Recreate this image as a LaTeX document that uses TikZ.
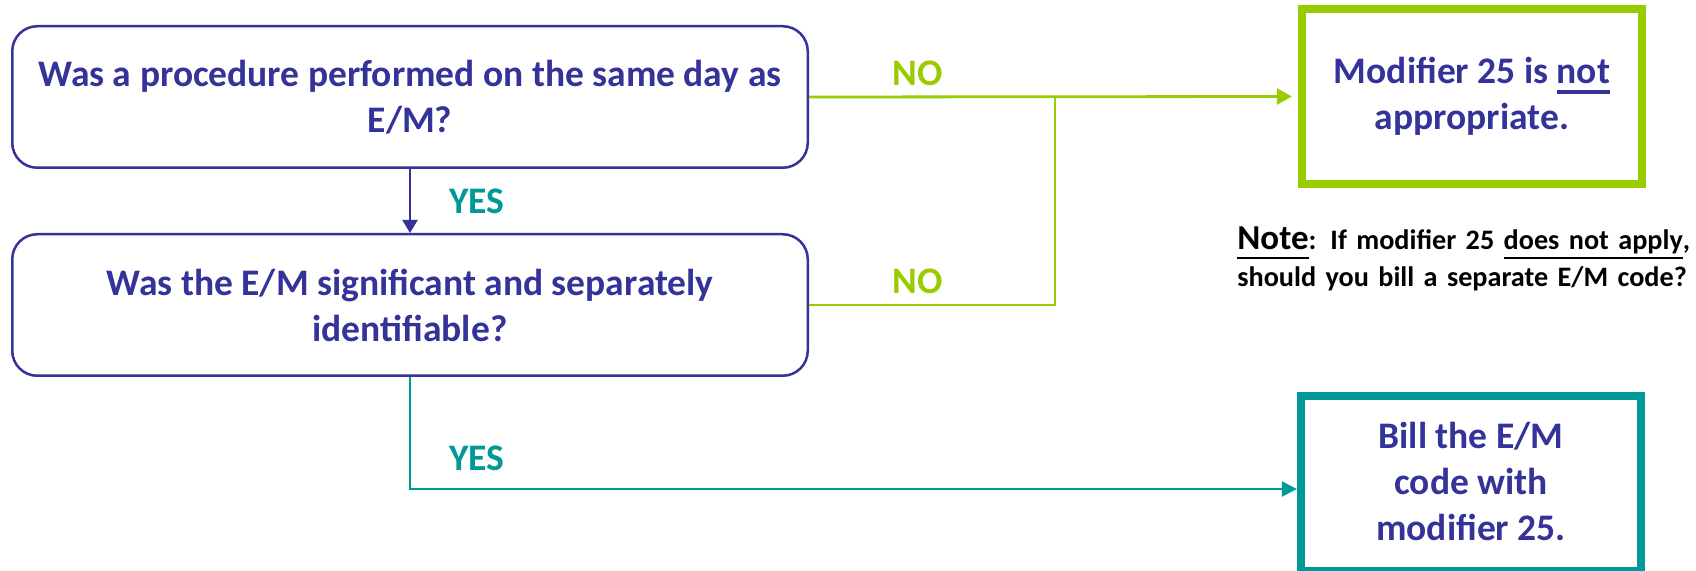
\documentclass[tikz,border=0pt]{standalone}
\usepackage{fontspec}
\setmainfont{Carlito}
\usetikzlibrary{arrows.meta}
\definecolor{navy}{RGB}{51,51,153}
\definecolor{lime}{RGB}{153,204,0}
\definecolor{tealc}{RGB}{0,153,153}
\newcommand\mythickul[1]{\setbox0\hbox{#1}\rlap{\rule[-5pt]{\wd0}{2pt}}\box0}
\newcommand\mythinul[1]{\setbox0\hbox{#1}\rlap{\rule[-4.5pt]{\wd0}{1.1pt}}\box0}
\begin{document}
\begin{tikzpicture}[x=0.5pt,y=-0.5pt,
  mainfont/.style={font=\fontsize{18.75}{23}\selectfont\bfseries},
  qbox/.style={draw=navy, line width=1.25pt, rounded corners=12.5pt,
    minimum width=397.75pt, minimum height=70.75pt, align=center,
    text=navy, mainfont, inner sep=0pt},
  endbox/.style={line width=3.9pt, minimum width=170.25pt, minimum height=87.75pt,
    align=center, text=navy, mainfont, inner sep=0pt},
  lbl/.style={mainfont, anchor=base, inner sep=0pt},
  noline/.style={draw=lime, line width=1.4pt},
  yesline/.style={draw=tealc, line width=1.25pt}
]
\useasboundingbox (0,0) rectangle (1696,571);

\node[qbox] (q1) at (410,97) {Was a procedure performed on the same day as\\E/M?};
\node[qbox] (q2) at (410,305) {Was the E/M significant and separately\\identifiable?};

\node[endbox, draw=lime] (r1) at (1472,96.5) {Modifier 25 is \mythickul{not}\\appropriate.};
\node[endbox, draw=tealc] (r2) at (1471,483.5) {};
\node[text=navy, mainfont, align=center, inner sep=0pt] (r2t) at (1471,481) {Bill the E/M\\code with\\modifier 25.};

\node[anchor=base west, text width=260pt, align=left, inner sep=0pt,
  font=\fontsize{14.1}{18.5}\selectfont\bfseries] (note) at (1237,250)
  {\mythinul{\fontsize{17.5}{18.5}\selectfont Note}: If modifier 25 \mythinul{does not apply},\\should you bill a separate E/M code?};

\coordinate (j) at (1055,97);

\draw[navy, line width=1pt, -{Triangle[length=6.5pt,width=7.5pt]}] (q1.south) -- (q2.north);
\draw[noline, -{Triangle[length=7.5pt,width=8pt]}, shorten >=3pt] (q1.east) -- (r1.west);
\draw[noline] (q2.east) -| (j);
\draw[yesline, -{Triangle[length=7.5pt,width=7.5pt]}] (q2.south) |- ([yshift=-2.75pt]r2.west);

\node[lbl, text=lime] (no1) at (918,86) {NO};
\node[lbl, text=lime] (no2) at (918,294) {NO};
\node[lbl, text=tealc] (yes1) at (477,214) {YES};
\node[lbl, text=tealc] (yes2) at (477,470) {YES};
\end{tikzpicture}
\end{document}
